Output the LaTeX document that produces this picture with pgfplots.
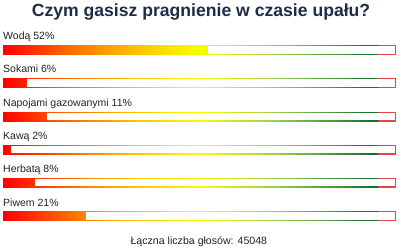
\documentclass[border=0pt]{standalone}
\usepackage{pgfplots}
\pgfplotsset{compat=1.18}
\usepackage{fontspec}
\setmainfont{Liberation Sans}
\definecolor{titlecol}{RGB}{30,44,72}
\definecolor{labcol}{RGB}{35,35,35}
\pgfplotsset{
  colormap={poll}{rgb255(0cm)=(255,0,0) rgb255(20cm)=(255,125,0) rgb255(35cm)=(255,200,0) rgb255(50cm)=(245,255,0) rgb255(70cm)=(150,205,80) rgb255(95cm)=(20,105,50) rgb255(95.6cm)=(228,70,70) rgb255(100cm)=(228,70,70)},
  grad/.style={patch, patch type=rectangle, shader=interp, point meta=explicit, colormap name=poll},
  inner/.style={fill=white, draw=none, mark=none},
}
\begin{document}
\begin{tikzpicture}
\begin{axis}[
  scale only axis, width=400bp, height=251bp,
  xmin=-0.7643, xmax=101.146, ymin=0, ymax=251, y dir=reverse,
  hide axis, clip=false,
  point meta min=0, point meta max=100,
]
\coordinate (bl) at (rel axis cs:0,0);
\coordinate (tr) at (rel axis cs:1,1);
% Woda 52
\addplot[grad] coordinates {(0,45.3) [0] (100,45.3) [100] (100,54.7) [100] (0,54.7) [0]};
\addplot[inner] coordinates {(0.25,46.3) (99.75,46.3) (99.75,53.7) (0.25,53.7)} -- cycle;
\addplot[grad] coordinates {(0,45.3) [0] (52,45.3) [52] (52,54.7) [52] (0,54.7) [0]};
% Sokami 6
\addplot[grad] coordinates {(0,78.3) [0] (100,78.3) [100] (100,87.7) [100] (0,87.7) [0]};
\addplot[inner] coordinates {(0.25,79.3) (99.75,79.3) (99.75,86.7) (0.25,86.7)} -- cycle;
\addplot[grad] coordinates {(0,78.3) [0] (6,78.3) [6] (6,87.7) [6] (0,87.7) [0]};
% Napojami 11
\addplot[grad] coordinates {(0,111.6) [0] (100,111.6) [100] (100,121.0) [100] (0,121.0) [0]};
\addplot[inner] coordinates {(0.25,112.6) (99.75,112.6) (99.75,120.0) (0.25,120.0)} -- cycle;
\addplot[grad] coordinates {(0,111.6) [0] (11,111.6) [11] (11,121.0) [11] (0,121.0) [0]};
% Kawa 2
\addplot[grad] coordinates {(0,144.8) [0] (100,144.8) [100] (100,154.2) [100] (0,154.2) [0]};
\addplot[inner] coordinates {(0.25,145.8) (99.75,145.8) (99.75,153.2) (0.25,153.2)} -- cycle;
\addplot[grad] coordinates {(0,144.8) [0] (2,144.8) [2] (2,154.2) [2] (0,154.2) [0]};
% Herbata 8
\addplot[grad] coordinates {(0,178.0) [0] (100,178.0) [100] (100,187.4) [100] (0,187.4) [0]};
\addplot[inner] coordinates {(0.25,179.0) (99.75,179.0) (99.75,186.4) (0.25,186.4)} -- cycle;
\addplot[grad] coordinates {(0,178.0) [0] (8,178.0) [8] (8,187.4) [8] (0,187.4) [0]};
% Piwem 21
\addplot[grad] coordinates {(0,211.3) [0] (100,211.3) [100] (100,220.7) [100] (0,220.7) [0]};
\addplot[inner] coordinates {(0.25,212.3) (99.75,212.3) (99.75,219.7) (0.25,219.7)} -- cycle;
\addplot[grad] coordinates {(0,211.3) [0] (21,211.3) [21] (21,220.7) [21] (0,220.7) [0]};
% texts
\node[anchor=base, font=\fontsize{17.6bp}{20bp}\selectfont\bfseries, text=titlecol, inner sep=0pt] at (axis cs:50.45,16.8) {Czym gasisz pragnienie w czasie upału?};
\node[anchor=base west, font=\fontsize{10.5bp}{12bp}\selectfont, text=labcol, inner sep=0pt] at (axis cs:0,40) {Wodą 52\%};
\node[anchor=base west, font=\fontsize{10.5bp}{12bp}\selectfont, text=labcol, inner sep=0pt] at (axis cs:0,73) {Sokami 6\%};
\node[anchor=base west, font=\fontsize{10.5bp}{12bp}\selectfont, text=labcol, inner sep=0pt] at (axis cs:0,106.3) {Napojami gazowanymi 11\%};
\node[anchor=base west, font=\fontsize{10.5bp}{12bp}\selectfont, text=labcol, inner sep=0pt] at (axis cs:0,139.5) {Kawą 2\%};
\node[anchor=base west, font=\fontsize{10.5bp}{12bp}\selectfont, text=labcol, inner sep=0pt] at (axis cs:0,172.7) {Herbatą 8\%};
\node[anchor=base west, font=\fontsize{10.5bp}{12bp}\selectfont, text=labcol, inner sep=0pt] at (axis cs:0,206) {Piwem 21\%};
\node[anchor=base, font=\fontsize{10.6bp}{12bp}\selectfont, text=labcol, inner sep=0pt] at (axis cs:49.9,244.5) {Łączna liczba głosów: 45048};
\end{axis}
\pgfresetboundingbox
\path (bl) rectangle (tr);
\end{tikzpicture}
\end{document}
